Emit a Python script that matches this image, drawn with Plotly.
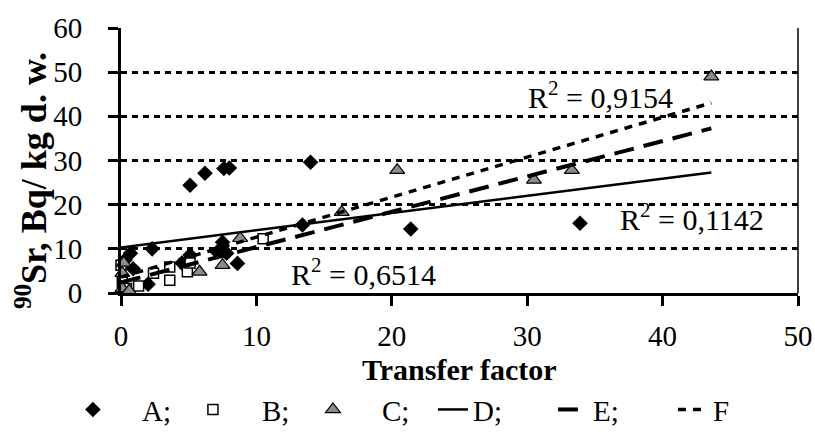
import plotly.graph_objects as go

# ---- data ----
A_x = [0.3, 0.7, 0.9, 2.0, 2.3, 4.5, 5.1, 5.1, 6.2, 7.1, 7.5, 7.6, 7.8, 8.0, 8.6, 13.4, 14.0, 21.4, 33.9]
A_y = [7.5, 9.0, 5.5, 2.0, 10.0, 6.8, 8.6, 24.4, 27.1, 9.3, 11.5, 28.2, 9.0, 28.3, 6.7, 15.4, 29.6, 14.5, 15.8]

B_x = [0.0, 0.1, 0.4, 1.3, 2.4, 3.6, 3.6, 4.9, 5.1, 10.5]
B_y = [6.3, 2.5, 1.0, 1.6, 4.5, 5.9, 2.9, 4.8, 6.8, 12.3]

C_x = [0.1, 0.1, 0.2, 0.6, 5.8, 7.5, 8.8, 16.3, 20.4, 30.5, 33.3, 43.6]
C_y = [1.0, 4.5, 6.8, 0.5, 4.8, 6.3, 12.4, 18.3, 27.8, 25.6, 27.8, 49.0]

# linear trend lines (intercept, slope)
D_coef = (10.3, 0.39)
E_coef = (2.4, 0.80)
F_coef = (3.6, 0.905)
trend_x = [0.0, max(A_x + B_x + C_x)]

R2_labels = ["R<sup>2</sup> = 0,9154", "R<sup>2</sup> = 0,1142", "R<sup>2</sup> = 0,6514"]
R2_pos_x = [35.4, 42.2, 17.9]
R2_pos_y = [44.8, 17.2, 4.8]

x_ticks = [0, 10, 20, 30, 40, 50]
y_ticks = [0, 10, 20, 30, 40, 50, 60]

legend_names = ["\u00a0\u00a0\u00a0\u00a0A;", "\u00a0\u00a0\u00a0\u00a0B;", "\u00a0\u00a0\u00a0\u00a0C;", "D;", "E;", "F"]

FONT = "Liberation Serif, Times New Roman, serif"

def line_y(coef, xs):
    return [coef[0] + coef[1] * x for x in xs]

fig = go.Figure()
fig.add_trace(go.Scatter(x=A_x, y=A_y, mode="markers", name=legend_names[0],
                         marker=dict(symbol="diamond", size=12, color="black"),
                         cliponaxis=False))
fig.add_trace(go.Scatter(x=B_x, y=B_y, mode="markers", name=legend_names[1],
                         marker=dict(symbol="square", size=10, color="white",
                                     line=dict(color="black", width=1.5)),
                         cliponaxis=False))
fig.add_trace(go.Scatter(x=C_x, y=C_y, mode="markers", name=legend_names[2],
                         marker=dict(symbol="triangle-up", size=13, color="#8c8c8c",
                                     line=dict(color="black", width=1.2)),
                         cliponaxis=False))
fig.add_trace(go.Scatter(x=trend_x, y=line_y(D_coef, trend_x), mode="lines", name=legend_names[3],
                         line=dict(color="black", width=2.5)))
fig.add_trace(go.Scatter(x=trend_x, y=line_y(E_coef, trend_x), mode="lines", name=legend_names[4],
                         line=dict(color="black", width=4, dash="20px,10px")))
fig.add_trace(go.Scatter(x=trend_x, y=line_y(F_coef, trend_x), mode="lines", name=legend_names[5],
                         line=dict(color="black", width=3.5, dash="8px,7px")))

for t, xx, yy in zip(R2_labels, R2_pos_x, R2_pos_y):
    fig.add_annotation(x=xx, y=yy, text=t, showarrow=False,
                       font=dict(family=FONT, size=30, color="black"))

# y-axis title
fig.add_annotation(xref="paper", yref="paper", x=-0.133, y=0.426,
                   xanchor="center", yanchor="middle",
                   text="<b><sup>90</sup>Sr, Bq/ kg d. w.</b>", textangle=-90,
                   showarrow=False, font=dict(family=FONT, size=36, color="black"))

# x-axis title
fig.add_annotation(xref="paper", yref="paper", x=0.5, y=-0.29,
                   xanchor="center", yanchor="middle",
                   text="<b>Transfer factor</b>",
                   showarrow=False, font=dict(family=FONT, size=30, color="black"))

# thin right border
fig.add_shape(type="line", xref="paper", yref="paper", x0=1, x1=1, y0=0, y1=1,
              line=dict(color="black", width=1.5))

fig.update_xaxes(range=[0, 50], tickvals=x_ticks, showgrid=False, zeroline=False,
                 automargin=False,
                 showline=True, linecolor="black", linewidth=3,
                 ticks="outside", ticklen=10, tickwidth=2.5, tickcolor="black",
                 ticklabelstandoff=5,
                 tickfont=dict(family=FONT, size=29, color="black"))
fig.update_yaxes(range=[0, 60], tickvals=y_ticks, showgrid=True, gridcolor="black",
                 gridwidth=2.5, griddash="6px,5px", zeroline=False,
                 automargin=False,
                 showline=True, linecolor="black", linewidth=3,
                 ticks="outside", ticklen=10, tickwidth=2.5, tickcolor="black",
                 ticklabelstandoff=20,
                 tickfont=dict(family=FONT, size=29, color="black"))

fig.update_layout(
    width=815, height=435,
    margin=dict(l=121, r=17, t=28, b=142, autoexpand=False),
    paper_bgcolor="white", plot_bgcolor="white",
    font=dict(family=FONT, size=29, color="black"),
    showlegend=True,
    legend=dict(orientation="h", xref="paper", yref="paper",
                x=-0.071, xanchor="left", y=-0.44, yanchor="middle",
                entrywidth=75, font=dict(family=FONT, size=29, color="black"),
                itemwidth=30, tracegroupgap=0),
)

fig.write_html("out.html", config={"displayModeBar": False},
               post_script="document.body.style.margin='0';document.body.style.overflow='hidden';")
